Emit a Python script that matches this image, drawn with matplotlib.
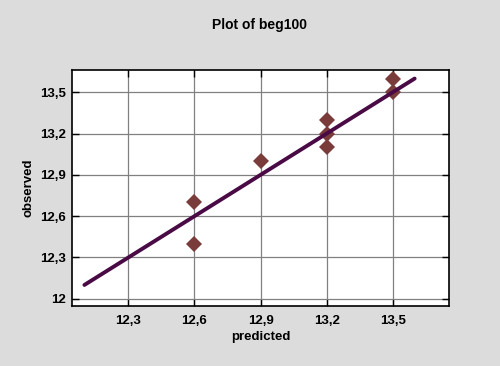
import numpy as np
import matplotlib
matplotlib.use("Agg")
import matplotlib.pyplot as plt
from matplotlib.ticker import FuncFormatter

# datos
predicted = [12.6, 12.6, 12.9, 13.2, 13.2, 13.2, 13.5, 13.5]
observed = [12.7, 12.4, 13.0, 13.3, 13.2, 13.1, 13.6, 13.5]
line_x = [12.1, 13.6]
line_y = [12.1, 13.6]
ticks_x = [12.3, 12.6, 12.9, 13.2, 13.5]
ticks_y = [12.0, 12.3, 12.6, 12.9, 13.2, 13.5]

plt.rcParams['font.family'] = ['Liberation Sans', 'DejaVu Sans']

fondo = '#dcdcdc'
fig = plt.figure(figsize=(5, 3.66), dpi=100, facecolor=fondo)
ax = fig.add_axes([72.3 / 500, 1 - 306 / 366, (449 - 72.3) / 500, (306 - 70.3) / 366])
ax.set_facecolor('white')

ax.plot(predicted, observed, 'D', color='#7a3b3b', ms=8, mew=0, zorder=3)
ax.plot(line_x, line_y, color='#4a0a45', lw=2.8, solid_capstyle='round', zorder=4)

ax.set_xlim(12.045, 13.756)
ax.set_ylim(11.947, 13.66)
ax.set_xticks(ticks_x)
ax.set_yticks(ticks_y)

fmt = FuncFormatter(lambda v, p: ('%g' % round(v, 2)).replace('.', ','))
ax.xaxis.set_major_formatter(fmt)
ax.yaxis.set_major_formatter(fmt)

ax.grid(True, color='#808080', lw=0.9, zorder=1)
ax.set_axisbelow(True)
ax.tick_params(direction='in', length=5, width=1, top=True, right=True,
               labelsize=9.5, colors='black')
ax.tick_params(axis='x', pad=6.5)
ax.tick_params(axis='y', pad=4.5)
for lab in ax.get_xticklabels() + ax.get_yticklabels():
    lab.set_fontweight('bold')
for s in ax.spines.values():
    s.set_linewidth(1.2)
    s.set_color('black')

ax.set_xlabel('predicted', fontsize=9.5, fontweight='bold', labelpad=3)
ax.set_ylabel('observed', fontsize=9.5, fontweight='bold', labelpad=4)
fig.text(0.52, 1 - 25 / 366, 'Plot of beg100', ha='center', va='center',
         fontsize=10, fontweight='bold')

fig.savefig('out.png', dpi=100, facecolor=fondo)
